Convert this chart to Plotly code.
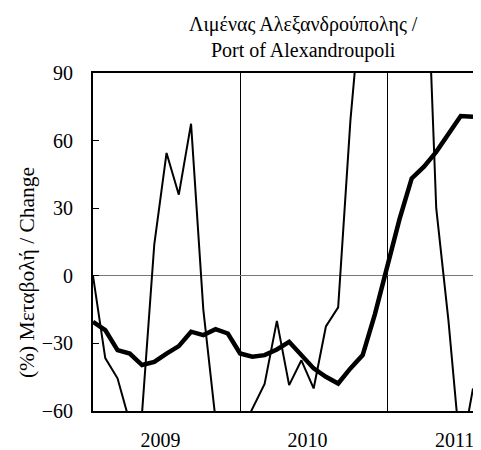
import plotly.graph_objects as go

# monthly observations, Jan 2009 .. Aug 2011 (index 0 = Jan 2009)
month_idx = list(range(32))

# thin line: monthly % change (values beyond the axis range are clipped)
monthly_change = [0, -36.5, -45.5, -65, -61, 14, 54.5, 36, 67.5, -15,
                  -64, -75, -70, -59, -48, -20, -48.5, -37.5, -50, -22.5,
                  -14, 69, 130, 160, 200, 210, 190, 175, 30, -20,
                  -80, -50]

# thick line: 12-month moving change
moving_change = [-20.4, -24.1, -33, -34.5, -39.6, -38.2, -34.5, -31.2, -24.8, -26.3,
                 -23.7, -25.6, -34.5, -35.9, -35.2, -32.7, -29.3, -35.2, -41.1, -44.8,
                 -47.8, -41.1, -35.2, -17, 4, 25, 43.2, 48.4, 55, 62.9,
                 70.9, 70.6]

year_pos = [5.5, 17.5, 29.5]
year_labels = ['2009', '2010', '2011']

FONT = 'Liberation Serif, Times New Roman, serif'

fig = go.Figure()
fig.add_trace(go.Scatter(x=month_idx, y=monthly_change, mode='lines',
                         line=dict(color='black', width=2), showlegend=False))
fig.add_trace(go.Scatter(x=month_idx, y=moving_change, mode='lines',
                         line=dict(color='black', width=4.5), showlegend=False))

fig.update_xaxes(
    range=[0, 31], automargin=False,
    tickvals=year_pos, ticktext=year_labels,
    ticks='', showgrid=False, zeroline=False,
    minor=dict(tick0=0, dtick=12, showgrid=True, gridcolor='black', gridwidth=1, ticks=''),
    showline=True, linecolor='black', linewidth=2, mirror=True,
    ticklabelstandoff=10,
)
fig.update_yaxes(
    range=[-60, 90], tickmode='linear', tick0=-60, dtick=30, automargin=False,
    ticks='inside', ticklen=6, tickcolor='black', tickwidth=1,
    showgrid=False, zeroline=True, zerolinecolor='#777', zerolinewidth=1,
    showline=True, linecolor='black', linewidth=2, mirror=True,
    ticklabelstandoff=14,
)

fig.add_annotation(text='(%) Μεταβολή / Change', textangle=-90,
                   xref='paper', yref='paper', x=-0.172, y=0.41,
                   xanchor='center', yanchor='middle',
                   showarrow=False, font=dict(size=21.5))

# page has an 8px body margin, so the figure is shifted by 8px in the window
fig.update_layout(
    width=473, height=450,
    margin=dict(l=85, r=8, t=65, b=47),
    title=dict(text='Λιμένας Αλεξανδρούπολης /<br>Port of Alexandroupoli',
               xref='container', yref='container', x=0.624, y=1 - 23 / 450,
               xanchor='center', yanchor='middle', font=dict(size=20, color='black')),
    font=dict(family=FONT, size=20, color='black'),
    plot_bgcolor='white', paper_bgcolor='white',
)

fig.write_html('out.html')
